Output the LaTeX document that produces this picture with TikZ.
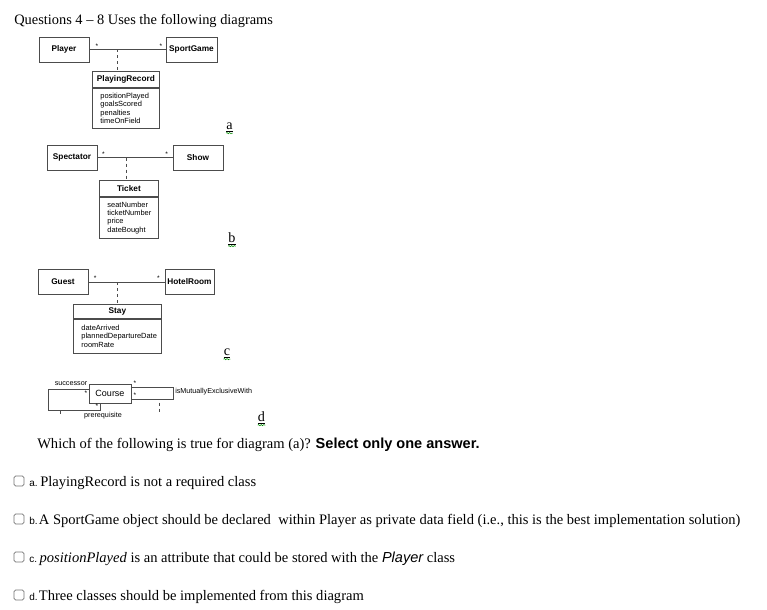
\documentclass[tikz,border=0pt]{standalone}
\usepackage{fontspec}
\setmainfont{Liberation Serif}
\setsansfont{Liberation Sans}
\usetikzlibrary{positioning, decorations.pathmorphing}
\newcommand{\optkey}[1]{{\sffamily\fontsize{7.5}{9}\selectfont #1}}

\begin{document}
\begin{tikzpicture}[
    x=0.75pt, y=-0.75pt,
    cls/.style={rectangle, draw=black!70, line width=0.6pt, fill=white, align=center, inner sep=1pt, minimum width=37.5pt, minimum height=18.75pt, font=\sffamily\bfseries\fontsize{6.2}{7}\selectfont},
    clshead/.style={cls, minimum height=12pt, anchor=north west},
    clsbody/.style={rectangle, draw=black!70, line width=0.6pt, align=left, inner xsep=6pt, inner ysep=0pt, font=\sffamily\fontsize{5.6}{6.3}\selectfont},
    assoc/.style={draw=black!70, line width=0.6pt},
    link/.style={assoc, dash pattern=on 2.25pt off 2.25pt},
    mult/.style={inner sep=0.8pt, font=\sffamily\fontsize{5}{5}\selectfont},
    role/.style={inner sep=0pt, font=\sffamily\fontsize{5.4}{6}\selectfont},
    diag/.style={anchor=base, inner sep=0pt, font=\fontsize{10.6}{12}\selectfont},
    squig/.style={green!55!black, line width=0.4pt, decorate, decoration={snake, amplitude=0.45pt, segment length=2pt}},
    chk/.style={rectangle, draw=black!55, rounded corners=1.2pt, line width=0.5pt, minimum size=7.5pt, inner sep=0pt},
    opt/.style={anchor=base west, inner sep=0pt, font=\fontsize{10.9}{12}\selectfont}
]
\useasboundingbox (0,0) rectangle (767,610);

\node[anchor=base west, inner sep=0pt, font=\fontsize{10.8}{13}\selectfont] (title) at (14,25) {Questions 4 – 8 Uses the following diagrams};

% (a)
\node[cls] (player) at (64,49.5) {Player};
\node[cls, minimum width=38.25pt] (sport) at (191.5,49.5) {SportGame};
\draw[assoc] (player) -- node[mult, pos=0.1, above] {*} node[mult, pos=0.94, above] {*} (sport);
\coordinate (recjoin) at (117,49.5);
\node[clshead, minimum width=50.25pt] (rec) at (92,71) {PlayingRecord};
\node[clsbody, text width=38.25pt, minimum height=30pt, below=0pt of rec] (recattr) {positionPlayed\\goalsScored\\penalties\\timeOnField};
\draw[link] (recjoin) -- (rec.north -| recjoin);
\node[diag] (diaga) at (229.5,129) {\underline{a}};
\draw[squig] ([yshift=-0.8pt]diaga.south west) -- ([yshift=-0.8pt]diaga.south east);

% (b)
\node[cls] (spect) at (72,157.5) {Spectator};
\node[cls] (show) at (198,157.5) {Show};
\draw[assoc] (spect) -- node[mult, pos=0.08, above] {*} node[mult, pos=0.92, above] {*} (show);
\coordinate (tktjoin) at (126,157.5);
\node[clshead, minimum width=44.25pt] (ticket) at (99,180) {Ticket};
\node[clsbody, text width=32.25pt, minimum height=30.75pt, below=0pt of ticket] (tktattr) {seatNumber\\ticketNumber\\price\\dateBought};
\draw[link] (tktjoin) -- (ticket.north -| tktjoin);
\node[diag] (diagb) at (232,242) {\underline{b}};
\draw[squig] ([yshift=-0.8pt]diagb.south west) -- ([yshift=-0.8pt]diagb.south east);

% (c)
\node[cls] (guest) at (63,282) {Guest};
\node[cls, minimum width=36.75pt] (room) at (189.5,282) {HotelRoom};
\draw[assoc] (guest) -- node[mult, pos=0.09, above] {*} node[mult, pos=0.92, above] {*} (room);
\coordinate (stayjoin) at (117,282);
\node[clshead, minimum width=66pt, minimum height=10.5pt] (stay) at (73,304) {Stay};
\node[clsbody, text width=54pt, minimum height=25.5pt, below=0pt of stay] (stayattr) {dateArrived\\plannedDepartureDate\\roomRate};
\draw[link] (stayjoin) -- (stay.north -| stayjoin);
\node[diag] (diagc) at (227,355) {\underline{c}};
\draw[squig] ([yshift=-0.8pt]diagc.south west) -- ([yshift=-0.8pt]diagc.south east);

% (d)
\node[cls, minimum width=31.5pt, minimum height=14.25pt, font=\sffamily\fontsize{6.75}{8}\selectfont] (course) at (110,393.5) {Course};
\coordinate (succtop) at (48,389);
\coordinate (succbot) at (100,410);
\draw[assoc] (course.west |- succtop) -- (succtop) |- (succbot) -- (course.south -| succbot);
\node[role] (succ) at (71,384) {successor};
\node[role] (prereq) at (103,416) {prerequisite};
\node[mult] (succmult) at (86,393) {*};
\node[mult] (premult) at (97,406) {*};
\coordinate (mextop) at (173,387);
\coordinate (mexbot) at (173,399);
\draw[assoc] (course.east |- mextop) -- (mextop) -- (mexbot) -- (course.east |- mexbot);
\node[role, anchor=west] (mex) at (175,392) {isMutuallyExclusiveWith};
\node[mult] (mexmult1) at (135,383.5) {*};
\node[mult] (mexmult2) at (135,395) {*};
\coordinate (stubl) at (60,410);
\draw[assoc] (stubl) -- ++(0,4);
\coordinate (stubr) at (159,402.5);
\draw[link] (stubr) -- ++(0,10);
\node[diag] (diagd) at (261.5,421) {\underline{d}};
\draw[squig] ([yshift=-0.8pt]diagd.south west) -- ([yshift=-0.8pt]diagd.south east);

\node[opt] (quest) at (37,448) {Which of the following is true for diagram (a)? {\sffamily\bfseries Select only one answer.}};

\node[chk] (chka) at (19,481) {};
\node[opt] (opta) at (29,486) {\optkey{a.}\hspace{2pt}PlayingRecord is not a required class};
\node[chk] (chkb) at (19,519) {};
\node[opt] (optb) at (29,524) {\optkey{b.}\hspace{1pt}A SportGame object should be declared\ \ within Player as private data field (i.e., this is the best implementation solution)};
\node[chk] (chkc) at (19,557) {};
\node[opt] (optc) at (29,562) {\optkey{c.}\hspace{2pt}\textit{positionPlayed} is an attribute that could be stored with the {\sffamily\itshape Player} class};
\node[chk] (chkd) at (19,595) {};
\node[opt] (optd) at (29,600) {\optkey{d.}\hspace{1pt}Three classes should be implemented from this diagram};
\end{tikzpicture}
\end{document}
